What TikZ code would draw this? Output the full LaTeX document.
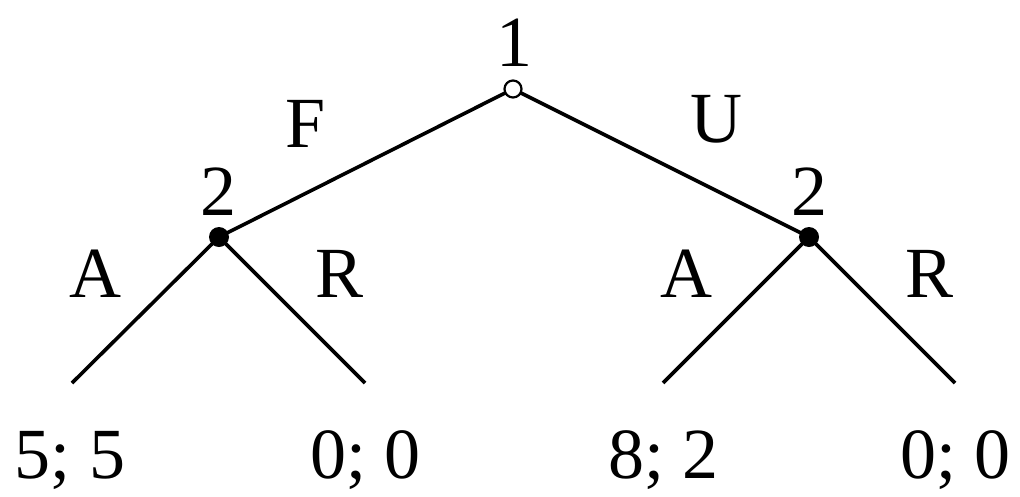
\documentclass[tikz,border=0pt]{standalone}
\usepackage{fontspec}
\setmainfont{Liberation Serif}
\begin{document}
\begin{tikzpicture}[x=1pt,y=-1pt,
  edge/.style={line width=3.6pt},
  lbl/.style={font=\fontsize{72}{76}\selectfont, inner sep=0pt, anchor=base},
  opennode/.style={circle, draw, line width=2.2pt, fill=white, minimum size=17pt, inner sep=0pt},
  fullnode/.style={circle, fill=black, minimum size=20pt, inner sep=0pt}]
\useasboundingbox (0,0) rectangle (1020,496);
\coordinate (r) at (513,89);
\coordinate (l) at (219,237);
\coordinate (rr) at (809,237);
\coordinate (ll1) at (72,383);
\coordinate (ll2) at (365,383);
\coordinate (rl1) at (663,383);
\coordinate (rl2) at (955,383);
\draw[edge] (l) -- (r) -- (rr);
\draw[edge] (ll1) -- (l) -- (ll2);
\draw[edge] (rl1) -- (rr) -- (rl2);
\node[opennode] (root) at (r) {};
\node[fullnode] (left) at (l) {};
\node[fullnode] (right) at (rr) {};
\node[lbl] (t1) at (514,66) {1};
\node[lbl] (tF) at (306,147) {F};
\node[lbl] (tU) at (716,142) {U};
\node[lbl] (t2a) at (218,215) {2};
\node[lbl] (t2b) at (809,215) {2};
\node[lbl] (tA1) at (95,297) {A};
\node[lbl] (tR1) at (340,297) {R};
\node[lbl] (tA2) at (686,297) {A};
\node[lbl] (tR2) at (930,297) {R};
\node[lbl] (p1) at (70,478) {5; 5};
\node[lbl] (p2) at (365,478) {0; 0};
\node[lbl] (p3) at (663,478) {8; 2};
\node[lbl] (p4) at (955,478) {0; 0};
\end{tikzpicture}
\end{document}
